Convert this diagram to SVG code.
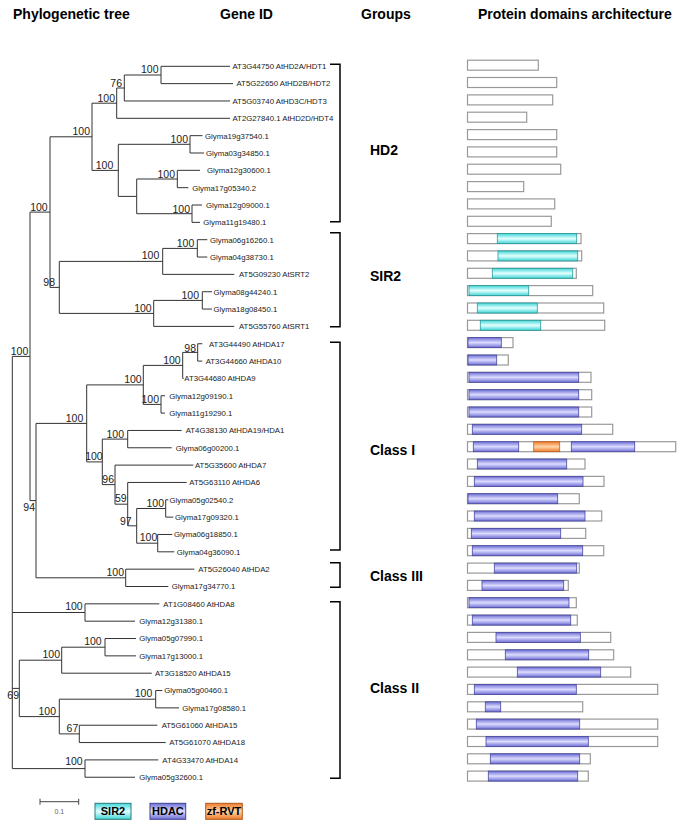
<svg xmlns="http://www.w3.org/2000/svg" width="683" height="827" viewBox="0 0 683 827">
<defs>
<linearGradient id="gSir" x1="0" y1="0" x2="0" y2="1"><stop offset="0" stop-color="#3fd6d6"/><stop offset="0.5" stop-color="#e4ffff"/><stop offset="1" stop-color="#3fd6d6"/></linearGradient>
<linearGradient id="gHdac" x1="0" y1="0" x2="0" y2="1"><stop offset="0" stop-color="#6e6ed6"/><stop offset="0.5" stop-color="#dcdcff"/><stop offset="1" stop-color="#6e6ed6"/></linearGradient>
<linearGradient id="gZf" x1="0" y1="0" x2="0" y2="1"><stop offset="0" stop-color="#ee7a2a"/><stop offset="0.5" stop-color="#ffd4a8"/><stop offset="1" stop-color="#ee7a2a"/></linearGradient>
</defs>
<style>
.hdr{font-family:"Liberation Sans",Arial,sans-serif;font-weight:bold;font-size:14px;fill:#000}
.grp{font-family:"Liberation Sans",Arial,sans-serif;font-weight:bold;font-size:14px;fill:#000}
.lbl{font-family:"Liberation Sans",Arial,sans-serif;font-size:7.8px;fill:#222}
.bs{font-family:"Liberation Sans",Arial,sans-serif;font-size:10.5px;fill:#222;text-anchor:end}
.br{fill:none;stroke:#333;stroke-width:1}
.brk{fill:none;stroke:#000;stroke-width:1.5}
.bar{fill:#fff;stroke:#999;stroke-width:1.2}
.sir{fill:url(#gSir);stroke:#2a9a9a;stroke-width:0.8}
.hdac{fill:url(#gHdac);stroke:#4848a0;stroke-width:0.8}
.zf{fill:url(#gZf);stroke:#c06020;stroke-width:0.8}
.leg{font-family:"Liberation Sans",Arial,sans-serif;font-weight:bold;font-size:11px;fill:#000;text-anchor:middle}
</style>
<rect width="683" height="827" fill="#fff"/>
<g id="headers">
<text class="hdr" x="13" y="18.5">Phylogenetic tree</text>
<text class="hdr" x="220" y="18.5">Gene ID</text>
<text class="hdr" x="361" y="18.5">Groups</text>
<text class="hdr" x="478" y="18.5">Protein domains architecture</text>
</g>
<g id="connectors">
<path class="br" d="M161,66.3V83.64M161,66.3H230M161,83.64H233
M124.3,75V100.98M124.3,75H161M124.3,100.98H230
M116.7,88V118.32M116.7,88H124.3M116.7,118.32H230
M190,135.66V153M190,135.66H202.5M190,153H204
M177.3,170.34V187.68M177.3,170.34H200M177.3,187.68H188.3
M192,205.02V222.36M192,205.02H202M192,222.36H200
M136.7,179V213.7M136.7,179H177.3M136.7,213.7H192
M118.3,144.3V196.4M118.3,144.3H190M118.3,196.4H136.7
M92,103.2V170.4M92,103.2H116.7M92,170.4H118.3
M197.3,239.7V257.04M197.3,239.7H207.3M197.3,257.04H207.3
M162.7,248.4V274.38M162.7,248.4H197.3M162.7,274.38H234.3
M202.3,291.72V309.06M202.3,291.72H212M202.3,309.06H212
M153.7,300.4V326.4M153.7,300.4H202.3M153.7,326.4H234.3
M59.3,261.4V313.4M59.3,261.4H162.7M59.3,313.4H153.7
M50,136.8V287.4M50,136.8H92M50,287.4H59.3
M197.7,343.74V361.08M197.7,343.74H202.3M197.7,361.08H202.3
M182.7,352.4V378.42M182.7,352.4H197.7M182.7,378.42H183.6
M161,395.76V413.1M161,395.76H165M161,413.1H165
M143.3,365.4V404.4M143.3,365.4H182.7M143.3,404.4H161
M127.7,430.44V447.78M127.7,430.44H181.7M127.7,447.78H171.7
M165.7,499.8V517.14M165.7,499.8H168.3M165.7,517.14H173.3
M157.7,534.48V551.82M157.7,534.48H172.3M157.7,551.82H174.3
M136.7,508.5V543.2M136.7,508.5H165.7M136.7,543.2H157.7
M127.7,482.46V525.8M127.7,482.46H186.7M127.7,525.8H136.7
M115,465.12V504.2M115,465.12H193.3M115,504.2H127.7
M102.3,439.1V484.6M102.3,439.1H127.7M102.3,484.6H115
M86.7,384.9V461.9M86.7,384.9H143.3M86.7,461.9H102.3
M125.7,569.16V586.5M125.7,569.16H194.3M125.7,586.5H168.3
M36,423.4V577.8M36,423.4H86.7M36,577.8H125.7
M30,212.1V500.6M30,212.1H50M30,500.6H36
M85,603.84V621.18M85,603.84H159.3M85,621.18H135
M105,638.52V655.86M105,638.52H136M105,655.86H136
M61.7,647.2V673.2M61.7,647.2H105M61.7,673.2H151.7
M155.7,690.54V707.88M155.7,690.54H162.3M155.7,707.88H179
M79.3,725.22V742.56M79.3,725.22H157.3M79.3,742.56H165.7
M59.3,699.2V733.9M59.3,699.2H155.7M59.3,733.9H79.3
M19.3,660.2V716.6M19.3,660.2H61.7M19.3,716.6H59.3
M85,759.9V777.24M85,759.9H158.3M85,777.24H135
M12.3,356.4V768.6M12.3,356.4H30M12.3,612.5H85M12.3,688.4H19.3M12.3,768.6H85"/>
</g>
<g id="bootstrap">
<text class="bs" x="158.5" y="73">100</text>
<text class="bs" x="122" y="86.5">76</text>
<text class="bs" x="115" y="101.5">100</text>
<text class="bs" x="188" y="143">100</text>
<text class="bs" x="175" y="177.5">100</text>
<text class="bs" x="190" y="212.5">100</text>
<text class="bs" x="113.3" y="168.8">100</text>
<text class="bs" x="90" y="135">100</text>
<text class="bs" x="47.7" y="210.5">100</text>
<text class="bs" x="194.3" y="246.7">100</text>
<text class="bs" x="159.3" y="258.5">100</text>
<text class="bs" x="199" y="299">100</text>
<text class="bs" x="151.7" y="311.5">100</text>
<text class="bs" x="55" y="286">98</text>
<text class="bs" x="196" y="351.5">98</text>
<text class="bs" x="180.7" y="363.5">100</text>
<text class="bs" x="159" y="402.7">100</text>
<text class="bs" x="141.7" y="383">100</text>
<text class="bs" x="83.3" y="421.7">100</text>
<text class="bs" x="124" y="437.5">100</text>
<text class="bs" x="102.7" y="460">100</text>
<text class="bs" x="114" y="483">96</text>
<text class="bs" x="126.7" y="502">59</text>
<text class="bs" x="131.7" y="524.5">97</text>
<text class="bs" x="164" y="506.7">100</text>
<text class="bs" x="157.3" y="541.3">100</text>
<text class="bs" x="35" y="511">94</text>
<text class="bs" x="28.3" y="355">100</text>
<text class="bs" x="124" y="576">100</text>
<text class="bs" x="82.7" y="610">100</text>
<text class="bs" x="101.7" y="645">100</text>
<text class="bs" x="60" y="658.3">100</text>
<text class="bs" x="152.3" y="697.3">100</text>
<text class="bs" x="78.3" y="732.3">67</text>
<text class="bs" x="56" y="715">100</text>
<text class="bs" x="19" y="699">69</text>
<text class="bs" x="82.7" y="765">100</text>
</g>
<g id="n-AT3G44750"><text class="lbl" x="232.5" y="69.1">AT3G44750 AtHD2A/HDT1</text><rect class="bar" x="467.5" y="60.2" width="70.8" height="10"/></g>
<g id="n-AT5G22650"><text class="lbl" x="236.5" y="86.4">AT5G22650 AtHD2B/HDT2</text><rect class="bar" x="467.5" y="77.5" width="89.2" height="10"/></g>
<g id="n-AT5G03740"><text class="lbl" x="232.5" y="103.8">AT5G03740 AtHD3C/HDT3</text><rect class="bar" x="467.5" y="94.9" width="85.2" height="10"/></g>
<g id="n-AT2G27840"><text class="lbl" x="232.5" y="121.1">AT2G27840.1 AtHD2D/HDT4</text><rect class="bar" x="467.5" y="112.2" width="59.2" height="10"/></g>
<g id="n-Glyma19g37540"><text class="lbl" x="205" y="138.5">Glyma19g37540.1</text><rect class="bar" x="467.5" y="129.6" width="89.2" height="10"/></g>
<g id="n-Glyma03g34850"><text class="lbl" x="206" y="155.8">Glyma03g34850.1</text><rect class="bar" x="467.5" y="146.9" width="89.2" height="10"/></g>
<g id="n-Glyma12g30600"><text class="lbl" x="207" y="173.1">Glyma12g30600.1</text><rect class="bar" x="467.5" y="164.2" width="93.2" height="10"/></g>
<g id="n-Glyma17g05340"><text class="lbl" x="192.3" y="190.5">Glyma17g05340.2</text><rect class="bar" x="467.5" y="181.6" width="56.2" height="10"/></g>
<g id="n-Glyma12g09000"><text class="lbl" x="206" y="207.8">Glyma12g09000.1</text><rect class="bar" x="467.5" y="198.9" width="87.2" height="10"/></g>
<g id="n-Glyma11g19480"><text class="lbl" x="203.3" y="225.2">Glyma11g19480.1</text><rect class="bar" x="467.5" y="216.3" width="83.8" height="10"/></g>
<g id="n-Glyma06g16260"><text class="lbl" x="210" y="242.5">Glyma06g16260.1</text><rect class="bar" x="467.5" y="233.6" width="113.5" height="10"/><rect class="sir" x="497.3" y="233.6" width="79.4" height="10"/></g>
<g id="n-Glyma04g38730"><text class="lbl" x="210" y="259.8">Glyma04g38730.1</text><rect class="bar" x="467.5" y="250.9" width="114.2" height="10"/><rect class="sir" x="498" y="250.9" width="79.7" height="10"/></g>
<g id="n-AT5G09230"><text class="lbl" x="239" y="277.2">AT5G09230 AtSRT2</text><rect class="bar" x="467.5" y="268.3" width="108.8" height="10"/><rect class="sir" x="492.3" y="268.3" width="80.4" height="10"/></g>
<g id="n-Glyma08g44240"><text class="lbl" x="213.5" y="294.5">Glyma08g44240.1</text><rect class="bar" x="467.5" y="285.6" width="125.2" height="10"/><rect class="sir" x="469" y="285.6" width="59.7" height="10"/></g>
<g id="n-Glyma18g08450"><text class="lbl" x="213.5" y="311.9">Glyma18g08450.1</text><rect class="bar" x="467.5" y="303" width="136.2" height="10"/><rect class="sir" x="477.3" y="303" width="60" height="10"/></g>
<g id="n-AT5G55760"><text class="lbl" x="239" y="329.2">AT5G55760 AtSRT1</text><rect class="bar" x="467.5" y="320.3" width="137.2" height="10"/><rect class="sir" x="480.3" y="320.3" width="60.4" height="10"/></g>
<g id="n-AT3G44490"><text class="lbl" x="209" y="346.5">AT3G44490 AtHDA17</text><rect class="bar" x="467.5" y="337.6" width="45.5" height="10"/><rect class="hdac" x="468" y="337.6" width="33.3" height="10"/></g>
<g id="n-AT3G44660"><text class="lbl" x="205.7" y="363.9">AT3G44660 AtHDA10</text><rect class="bar" x="467.5" y="355" width="40.8" height="10"/><rect class="hdac" x="468" y="355" width="28.7" height="10"/></g>
<g id="n-AT3G44680"><text class="lbl" x="184.3" y="381.2">AT3G44680 AtHDA9</text><rect class="bar" x="467.5" y="372.3" width="123.5" height="10"/><rect class="hdac" x="469" y="372.3" width="109.7" height="10"/></g>
<g id="n-Glyma12g09190"><text class="lbl" x="169.3" y="398.6">Glyma12g09190.1</text><rect class="bar" x="467.5" y="389.7" width="124.2" height="10"/><rect class="hdac" x="469" y="389.7" width="109.7" height="10"/></g>
<g id="n-Glyma11g19290"><text class="lbl" x="169.3" y="415.9">Glyma11g19290.1</text><rect class="bar" x="467.5" y="407" width="124.2" height="10"/><rect class="hdac" x="469" y="407" width="109.7" height="10"/></g>
<g id="n-AT4G38130"><text class="lbl" x="185.7" y="433.2">AT4G38130 AtHDA19/HDA1</text><rect class="bar" x="467.5" y="424.3" width="145.2" height="10"/><rect class="hdac" x="472.3" y="424.3" width="109.4" height="10"/></g>
<g id="n-Glyma06g00200"><text class="lbl" x="175.7" y="450.6">Glyma06g00200.1</text><rect class="bar" x="467.5" y="441.7" width="208.2" height="10"/><rect class="hdac" x="473.3" y="441.7" width="45.4" height="10"/><rect class="zf" x="533.7" y="441.7" width="26" height="10"/><rect class="hdac" x="571.3" y="441.7" width="63.4" height="10"/></g>
<g id="n-AT5G35600"><text class="lbl" x="195" y="467.9">AT5G35600 AtHDA7</text><rect class="bar" x="467.5" y="459" width="117.5" height="10"/><rect class="hdac" x="477.3" y="459" width="89.4" height="10"/></g>
<g id="n-AT5G63110"><text class="lbl" x="189.3" y="485.3">AT5G63110 AtHDA6</text><rect class="bar" x="467.5" y="476.4" width="136.5" height="10"/><rect class="hdac" x="474.3" y="476.4" width="108.7" height="10"/></g>
<g id="n-Glyma05g02540"><text class="lbl" x="169.5" y="502.6">Glyma05g02540.2</text><rect class="bar" x="467.5" y="493.7" width="111.8" height="10"/><rect class="hdac" x="468" y="493.7" width="89.7" height="10"/></g>
<g id="n-Glyma17g09320"><text class="lbl" x="175" y="519.9">Glyma17g09320.1</text><rect class="bar" x="467.5" y="511" width="134.2" height="10"/><rect class="hdac" x="474.3" y="511" width="110.7" height="10"/></g>
<g id="n-Glyma06g18850"><text class="lbl" x="174" y="537.3">Glyma06g18850.1</text><rect class="bar" x="467.5" y="528.4" width="118.2" height="10"/><rect class="hdac" x="471.3" y="528.4" width="89.4" height="10"/></g>
<g id="n-Glyma04g36090"><text class="lbl" x="176.7" y="554.6">Glyma04g36090.1</text><rect class="bar" x="467.5" y="545.7" width="136.2" height="10"/><rect class="hdac" x="472.3" y="545.7" width="110.4" height="10"/></g>
<g id="n-AT5G26040"><text class="lbl" x="198.3" y="572">AT5G26040 AtHDA2</text><rect class="bar" x="467.5" y="563.1" width="111.8" height="10"/><rect class="hdac" x="494.3" y="563.1" width="82.4" height="10"/></g>
<g id="n-Glyma17g34770"><text class="lbl" x="171.7" y="589.3">Glyma17g34770.1</text><rect class="bar" x="467.5" y="580.4" width="100.8" height="10"/><rect class="hdac" x="482" y="580.4" width="81.7" height="10"/></g>
<g id="n-AT1G08460"><text class="lbl" x="163.3" y="606.6">AT1G08460 AtHDA8</text><rect class="bar" x="467.5" y="597.7" width="108.8" height="10"/><rect class="hdac" x="469" y="597.7" width="100" height="10"/></g>
<g id="n-Glyma12g31380"><text class="lbl" x="139.3" y="624">Glyma12g31380.1</text><rect class="bar" x="467.5" y="615.1" width="109.8" height="10"/><rect class="hdac" x="472.3" y="615.1" width="98.4" height="10"/></g>
<g id="n-Glyma05g07990"><text class="lbl" x="139.3" y="641.3">Glyma05g07990.1</text><rect class="bar" x="467.5" y="632.4" width="143.2" height="10"/><rect class="hdac" x="496" y="632.4" width="84.3" height="10"/></g>
<g id="n-Glyma17g13000"><text class="lbl" x="139.3" y="658.7">Glyma17g13000.1</text><rect class="bar" x="467.5" y="649.8" width="146.2" height="10"/><rect class="hdac" x="505.3" y="649.8" width="83.4" height="10"/></g>
<g id="n-AT3G18520"><text class="lbl" x="155" y="676">AT3G18520 AtHDA15</text><rect class="bar" x="467.5" y="667.1" width="163.2" height="10"/><rect class="hdac" x="517.3" y="667.1" width="83.4" height="10"/></g>
<g id="n-Glyma05g00460"><text class="lbl" x="164.3" y="693.3">Glyma05g00460.1</text><rect class="bar" x="467.5" y="684.4" width="190.2" height="10"/><rect class="hdac" x="474.3" y="684.4" width="102" height="10"/></g>
<g id="n-Glyma17g08580"><text class="lbl" x="182.3" y="710.7">Glyma17g08580.1</text><rect class="bar" x="467.5" y="701.8" width="115.2" height="10"/><rect class="hdac" x="485.3" y="701.8" width="15.4" height="10"/></g>
<g id="n-AT5G61060"><text class="lbl" x="161.7" y="728">AT5G61060 AtHDA15</text><rect class="bar" x="467.5" y="719.1" width="190.2" height="10"/><rect class="hdac" x="476.3" y="719.1" width="103.4" height="10"/></g>
<g id="n-AT5G61070"><text class="lbl" x="169.3" y="745.4">AT5G61070 AtHDA18</text><rect class="bar" x="467.5" y="736.5" width="190.2" height="10"/><rect class="hdac" x="486" y="736.5" width="102.3" height="10"/></g>
<g id="n-AT4G33470"><text class="lbl" x="162.3" y="762.7">AT4G33470 AtHDA14</text><rect class="bar" x="467.5" y="753.8" width="122.8" height="10"/><rect class="hdac" x="490.3" y="753.8" width="89.4" height="10"/></g>
<g id="n-Glyma05g32600"><text class="lbl" x="139.3" y="780">Glyma05g32600.1</text><rect class="bar" x="467.5" y="771.1" width="120.8" height="10"/><rect class="hdac" x="488.3" y="771.1" width="89.4" height="10"/></g>
<g id="groups">
<path class="brk" d="M330,64.3H340V221.7H330"/>
<path class="brk" d="M330,232.7H340V326.7H330"/>
<path class="brk" d="M330,342.3H340V550H330"/>
<path class="brk" d="M330,562.7H340V587.3H330"/>
<path class="brk" d="M330,601.7H340V778.3H330"/>
<text class="grp" x="370" y="155">HD2</text>
<text class="grp" x="370" y="281">SIR2</text>
<text class="grp" x="370" y="455">Class I</text>
<text class="grp" x="370" y="581">Class III</text>
<text class="grp" x="370" y="693">Class II</text>
</g>
<g id="legend">
<path d="M40,801.7H78.7M40,798.7V804.7M78.7,798.7V804.7" fill="none" stroke="#444" stroke-width="1"/>
<text x="59.3" y="813.5" font-family="Liberation Sans, Arial, sans-serif" font-size="7px" fill="#666" text-anchor="middle">0.1</text>
<rect x="95" y="803.3" width="36" height="16" fill="url(#gSir)" stroke="#2a7a7a" stroke-width="1"/>
<text class="leg" x="113" y="815.3">SIR2</text>
<rect x="150" y="803.3" width="35.7" height="16" fill="url(#gHdac)" stroke="#404090" stroke-width="1"/>
<text class="leg" x="167.9" y="815.3">HDAC</text>
<rect x="205.7" y="803.3" width="36.6" height="16" fill="url(#gZf)" stroke="#b05a1a" stroke-width="1"/>
<text class="leg" x="224" y="815.3">zf-RVT</text>
</g>
</svg>
